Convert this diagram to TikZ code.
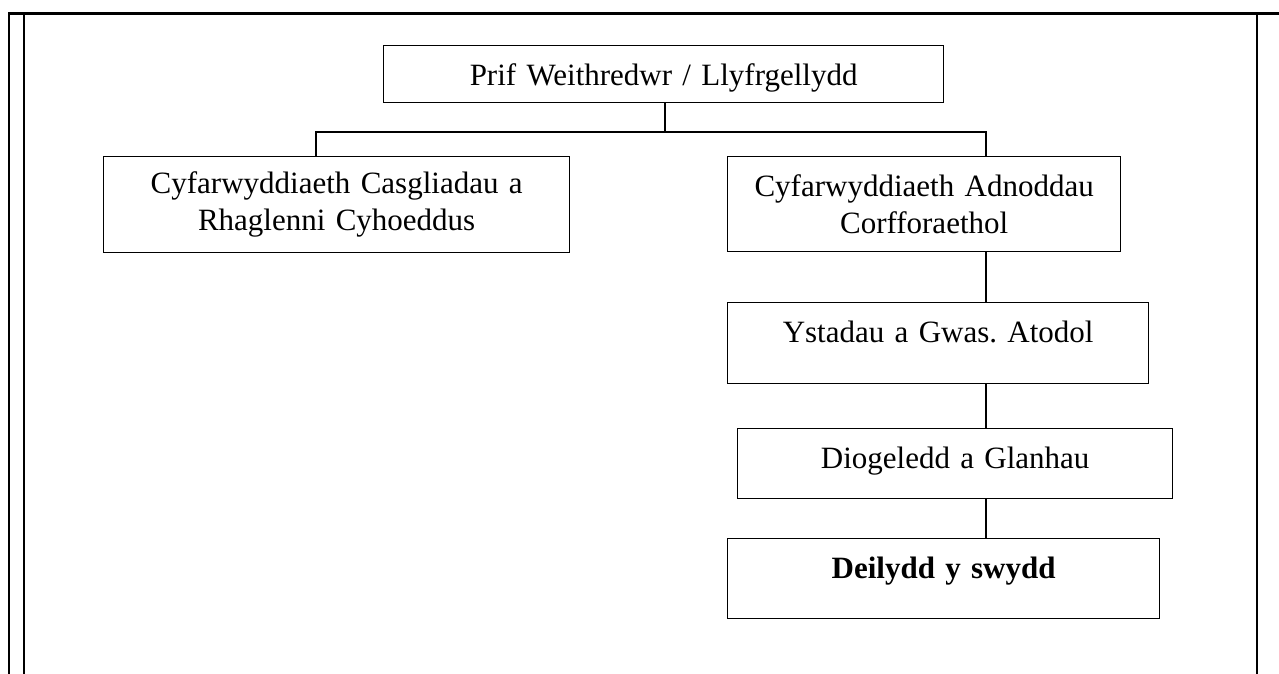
\documentclass[tikz,border=0pt]{standalone}
\usepackage{fontspec}
\setmainfont{Liberation Serif}
\frenchspacing

\begin{document}
\begin{tikzpicture}
        [
            x = 1pt, y = -1pt,
            box/.style = {draw, line width = 1.3pt, inner sep = 0pt, anchor = north west,
                          align = center, font = \fontsize{31}{37}\selectfont},
            oneline/.style = {text height = 40pt, text depth = #1},
            wire/.style = {line width = 1.3pt},
            frame/.style = {line width = 2.2pt}
        ]
        \useasboundingbox (0,0) rectangle (1279,674);

        \draw [frame, line width = 3pt] (8,14) -- (1279,14);
        \draw [frame] (9,13) -- (9,674);
        \draw [frame] (24,14) -- (24,674);
        \draw [frame] (1257,14) -- (1257,674);

        \node [box, oneline = 17pt, text width = 560pt] (chief) at (383,45) {Prif Weithredwr / Llyfrgellydd};
        \node [box, text width = 466pt, minimum height = 96pt] (collections) at (103,156)
            {Cyfarwyddiaeth Casgliadau a\\Rhaglenni Cyhoeddus};
        \node [box, text width = 393pt, minimum height = 95pt] (resources) at (727,156)
            {Cyfarwyddiaeth Adnoddau\\Corfforaethol};
        \node [box, oneline = 41pt, text width = 421pt] (estates) at (727,302) {Ystadau a Gwas. Atodol};
        \node [box, oneline = 30pt, text width = 435pt] (security) at (737,428) {Diogeledd a Glanhau};
        \node [box, oneline = 40pt, text width = 432pt] (post) at (727,538) {\bfseries Deilydd y swydd};

        \coordinate (bus) at (665,132);
        \coordinate (left drop) at (316,156);
        \coordinate (right drop) at (986,156);

        \draw [wire] (chief.south -| bus) -- (bus);
        \draw [wire] (left drop) |- (bus) -| (right drop);
        \draw [wire] (resources.south -| right drop) -- (estates.north -| right drop);
        \draw [wire] (estates.south -| right drop) -- (security.north -| right drop);
        \draw [wire] (security.south -| right drop) -- (post.north -| right drop);
    \end{tikzpicture}
\end{document}
